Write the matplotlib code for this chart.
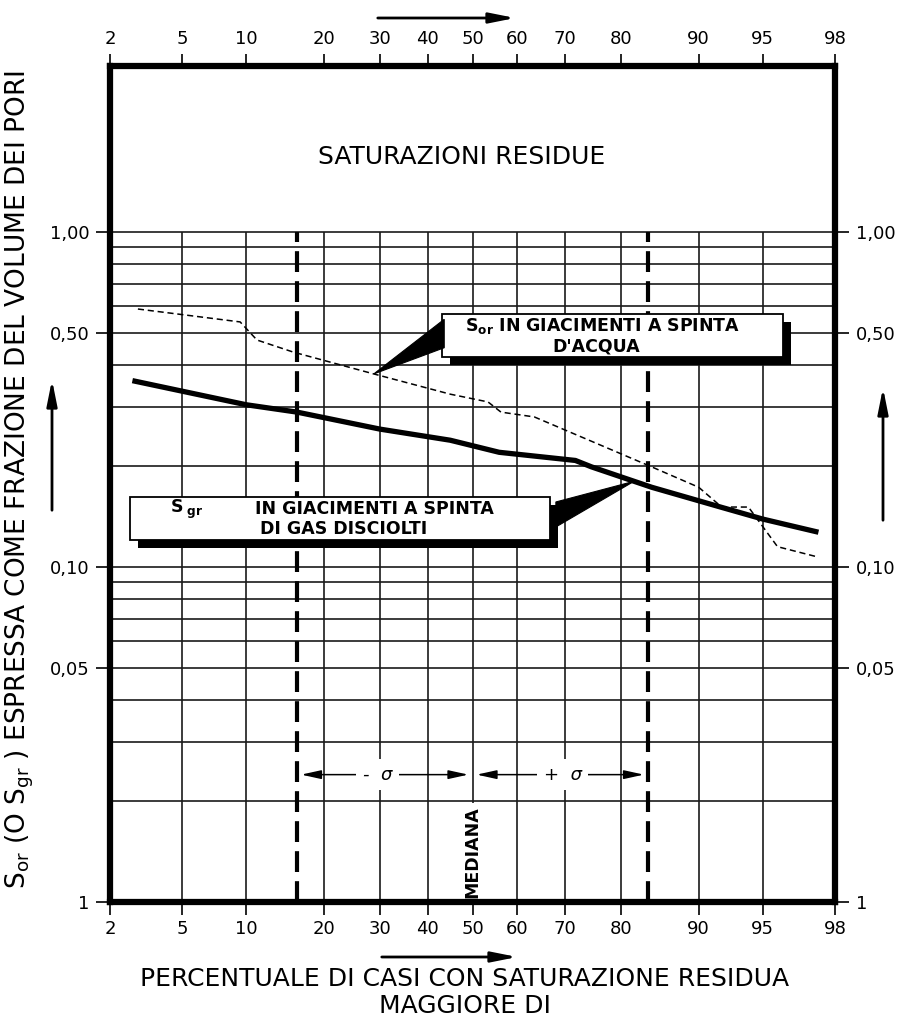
import numpy as np
import matplotlib
matplotlib.use("Agg")
import matplotlib.pyplot as plt
from matplotlib.patches import Rectangle, Polygon, FancyArrowPatch
from statistics import NormalDist

plt.rcParams['font.family'] = ['DejaVu Sans']
plt.rcParams['mathtext.default'] = 'regular'

# ---------------- data ----------------
# S_gr (solution gas drive) - solid thick curve
sgr_pct = [2.7, 10, 16, 30, 45, 56, 72, 75, 84.5, 92, 95, 97.5]
sgr_val = [0.36, 0.305, 0.29, 0.258, 0.239, 0.22, 0.208, 0.199, 0.173, 0.151, 0.139, 0.127]

# S_or (water drive) - thin dashed curve
sor_pct = [2.9, 9.4, 11.1, 15.5, 28.8, 45, 53.5, 56.4, 63.7, 84.5, 90, 92.1, 94.1, 95.8, 97.5]
sor_val = [0.589, 0.539, 0.476, 0.438, 0.377, 0.328, 0.311, 0.29, 0.2805, 0.199, 0.173, 0.151, 0.151, 0.115, 0.107]

xtick_pct = [2, 5, 10, 20, 30, 40, 50, 60, 70, 80, 90, 95, 98]
xtick_labels = ['2', '5', '10', '20', '30', '40', '50', '60', '70', '80', '90', '95', '98']
ytick_vals = [0.01, 0.05, 0.10, 0.50, 1.00]
ytick_labels = ['1', '0,05', '0,10', '0,50', '1,00']

vgrid_pct = [5, 10, 20, 30, 40, 50, 60, 70, 80, 90, 95]
hgrid_vals = [0.02, 0.03, 0.04, 0.05, 0.06, 0.07, 0.08, 0.09, 0.1,
              0.2, 0.3, 0.4, 0.5, 0.6, 0.7, 0.8, 0.9, 1.0]
sigma_pct = [16, 50, 84]          # -sigma, median, +sigma
sigma_level = 0.024
mediana_level = 0.0141

# ---------------- probability scale ----------------
_nd = NormalDist()
_ppf = np.vectorize(lambda q: _nd.inv_cdf(q) if np.isfinite(q) else np.nan, otypes=[float])
_cdf = np.vectorize(lambda z: _nd.cdf(z) if np.isfinite(z) else np.nan, otypes=[float])


def fwd(p):
    p = np.asarray(p, dtype=float)
    return _ppf(np.clip(p / 100.0, 1e-9, 1 - 1e-9))


def inv(z):
    z = np.asarray(z, dtype=float)
    return _cdf(z) * 100.0


fig = plt.figure(figsize=(9.04, 10.18), dpi=100)
ax = fig.add_axes([110 / 904, 1 - 902 / 1018, 725 / 904, 836 / 1018])
ax.set_xscale('function', functions=(fwd, inv))
ax.set_yscale('log')
ax.set_xlim(2, 98)
ax.set_ylim(0.01, 3.13)

# grid
ax.hlines(hgrid_vals, 2, 98, color='#1a1a1a', lw=1.2, zorder=1)
ax.vlines(vgrid_pct, 0.01, 1.0, color='#1a1a1a', lw=1.2, zorder=1)
ax.vlines([sigma_pct[0], sigma_pct[2]], 0.01, 1.0, color='k', lw=3,
          linestyles=[(0, (5, 2.2))], zorder=2)

# curves
ax.plot(sor_pct, sor_val, color='k', lw=1.1, ls=(0, (4, 2.5)), zorder=3)
ax.plot(sgr_pct, sgr_val, color='k', lw=3.8, solid_capstyle='butt', zorder=4)

# axes styling
for s in ax.spines.values():
    s.set_linewidth(4.5)
    s.set_zorder(10)
ax.set_xticks(xtick_pct, labels=xtick_labels)
ax.set_yticks(ytick_vals, labels=ytick_labels)
ax.minorticks_off()
ax.tick_params(axis='x', which='major', top=True, bottom=True, labeltop=True,
               labelbottom=True, direction='out', length=9, width=1.2,
               labelsize=13, pad=4)
ax.tick_params(axis='y', which='major', left=True, right=True, labelleft=True,
               labelright=True, direction='out', length=10, width=1.2,
               labelsize=13, pad=5)

# sigma arrows
aprops = dict(arrowstyle='<|-|>,head_length=1.0,head_width=0.22', color='k',
              lw=1.1, shrinkA=3, shrinkB=3, mutation_scale=12)
ax.annotate('', xy=(sigma_pct[0], sigma_level), xytext=(sigma_pct[1], sigma_level),
            arrowprops=aprops, zorder=5)
ax.annotate('', xy=(sigma_pct[1], sigma_level), xytext=(sigma_pct[2], sigma_level),
            arrowprops=aprops, zorder=5)
ax.text(29.5, sigma_level, '-  σ', ha='center', va='center', fontsize=13,
        fontstyle='italic', zorder=6,
        bbox=dict(fc='white', ec='none', pad=5))
ax.text(69.5, sigma_level, '+  σ', ha='center', va='center', fontsize=13,
        fontstyle='italic', zorder=6,
        bbox=dict(fc='white', ec='none', pad=5))
ax.text(sigma_pct[1], mediana_level, 'MEDIANA', rotation=90, ha='center',
        va='center', fontsize=12.5, fontweight='bold', zorder=6,
        bbox=dict(fc='white', ec='none', pad=2))


# ---------------- label boxes ----------------
def to_axes(p, v):
    return ax.transAxes.inverted().transform(ax.transData.transform((p, v)))


def box(x0, y0, x1, y1):
    dx, dy = 8 / 725, 8 / 836
    ax.add_patch(Rectangle((x0 + dx, y0 - dy), x1 - x0, y1 - y0, transform=ax.transAxes,
                           fc='k', ec='k', lw=0, zorder=7, clip_on=False))
    ax.add_patch(Rectangle((x0, y0), x1 - x0, y1 - y0, transform=ax.transAxes,
                           fc='white', ec='k', lw=1.3, zorder=8, clip_on=False))


BOXFS = 12.5

# box 1 : S_or
b1 = (0.458, 0.652, 0.928, 0.703)
box(*b1)
apex1 = to_axes(sor_pct[4], sor_val[4])
ax.add_patch(Polygon([apex1, (b1[0] + 0.003, 0.697), (b1[0] + 0.003, 0.663)],
                     closed=True, transform=ax.transAxes, fc='k', ec='k', lw=0.8,
                     zorder=9))
ax.text(0.680, 0.689, r'S$_{or}$ IN GIACIMENTI A SPINTA', transform=ax.transAxes,
        ha='center', va='center', fontsize=BOXFS, fontweight='bold', zorder=9)
ax.text(0.670, 0.665, "D'ACQUA", transform=ax.transAxes,
        ha='center', va='center', fontsize=BOXFS, fontweight='bold', zorder=9)

# box 2 : S_gr
b2 = (0.0276, 0.433, 0.607, 0.4844)
box(*b2)
zs = fwd(sgr_pct)
za = float(fwd(82.0))
va = 10 ** np.interp(za, zs, np.log10(sgr_val))
apex2 = to_axes(82.0, va)
ax.add_patch(Polygon([apex2, (b2[2] + 0.008, 0.4785), (b2[2] + 0.008, 0.4486)],
                     closed=True, transform=ax.transAxes, fc='k', ec='k', lw=0.8,
                     zorder=9))
ax.text(0.083, 0.470, r'S$_{\ gr}$', transform=ax.transAxes, ha='left', va='center',
        fontsize=BOXFS, fontweight='bold', zorder=9)
ax.text(0.200, 0.470, 'IN GIACIMENTI A SPINTA', transform=ax.transAxes, ha='left',
        va='center', fontsize=BOXFS, fontweight='bold', zorder=9)
ax.text(0.207, 0.446, 'DI GAS DISCIOLTI', transform=ax.transAxes, ha='left',
        va='center', fontsize=BOXFS, fontweight='bold', zorder=9)

# ---------------- figure texts ----------------
fig.text(462 / 904, 1 - 157 / 1018, 'SATURAZIONI RESIDUE', ha='center', va='center',
         fontsize=18)
fig.text(465 / 904, 1 - 979 / 1018, 'PERCENTUALE DI CASI CON SATURAZIONE RESIDUA',
         ha='center', va='center', fontsize=18)
fig.text(465 / 904, 1 - 1006 / 1018, 'MAGGIORE DI', ha='center', va='center',
         fontsize=18)
fig.text(20 / 904, 1 - 480 / 1018,
         r'S$_{or}$ (O S$_{gr}$ ) ESPRESSA COME FRAZIONE DEL VOLUME DEI PORI',
         rotation=90, ha='center', va='center', fontsize=19)


# direction arrows
def farrow(p0, p1):
    fig.add_artist(FancyArrowPatch(p0, p1, transform=fig.transFigure,
                                   arrowstyle='-|>,head_length=1.1,head_width=0.22',
                                   mutation_scale=14, lw=2, color='k'))


farrow((375 / 904, 1 - 18 / 1018), (518 / 904, 1 - 18 / 1018))
farrow((379 / 904, 1 - 957 / 1018), (520 / 904, 1 - 957 / 1018))
farrow((52 / 904, 1 - 513 / 1018), (52 / 904, 1 - 377 / 1018))
farrow((883 / 904, 1 - 523 / 1018), (883 / 904, 1 - 385 / 1018))

fig.savefig('out.png', dpi=100)
